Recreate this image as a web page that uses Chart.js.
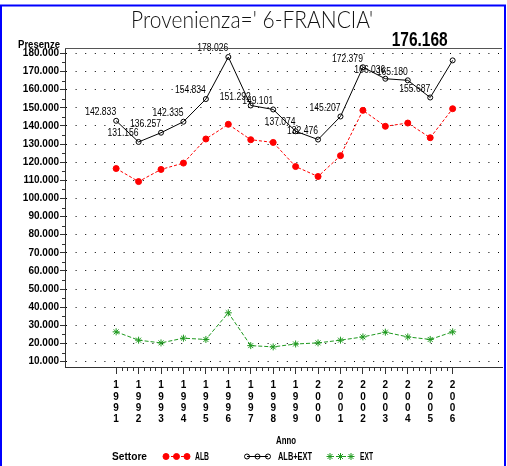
<!DOCTYPE html>
<html>
<head>
<meta charset="utf-8">
<script src="https://cdn.jsdelivr.net/npm/chart.js@4.4.0/dist/chart.umd.min.js"></script>
<style>
  html, body { margin: 0; padding: 0; background: #fff; }
</style>
</head>
<body>
<canvas id="myChart" width="507" height="466"></canvas>
<script>
var years = [1991, 1992, 1993, 1994, 1995, 1996, 1997, 1998, 1999, 2000, 2001, 2002, 2003, 2004, 2005, 2006];
var albExt = [142833, 131156, 136257, 142335, 154834, 178026, 151292, 149101, 137074, 132476, 145207, 172379, 166036, 165180, 155687, 176168];
var alb = [116500, 109300, 116000, 119500, 132800, 140900, 132400, 130900, 117600, 112100, 123600, 148600, 139800, 141600, 133500, 149500];
var ext = [26400, 21800, 20300, 22900, 22200, 36900, 18800, 18100, 19700, 20300, 21800, 23600, 26200, 23600, 22200, 26400];
var yTicks = [10000, 20000, 30000, 40000, 50000, 60000, 70000, 80000, 90000, 100000, 110000, 120000, 130000, 140000, 150000, 160000, 170000, 180000];

var SANS = '"Liberation Sans", Arial, sans-serif';

function fmt(v) {
  return (v / 1000).toFixed(3);
}

function points(vals) {
  return years.map(function (y, i) { return { x: y, y: vals[i] }; });
}

// make text span a given width: squeeze it if too wide, space it out if too narrow
function fitText(c, text, x, y, width) {
  c.save();
  c.letterSpacing = '0px';
  c.textAlign = 'left';
  var w0 = c.measureText(text).width;
  if (w0 > width) {
    c.translate(x, y);
    c.scale(width / w0, 1);
    c.fillText(text, 0, 0);
  } else {
    c.letterSpacing = ((width - w0) / Math.max(text.length - 1, 1)) + 'px';
    c.fillText(text, x, y);
  }
  c.restore();
}

var decor = {
  id: 'decor',
  beforeDraw: function (chart) {
    var c = chart.ctx;
    c.save();
    c.fillStyle = '#fff';
    c.fillRect(0, 0, chart.width, chart.height);
    c.restore();
  },
  afterDraw: function (chart) {
    var c = chart.ctx;
    var area = chart.chartArea;
    var xs = chart.scales.x;
    var ys = chart.scales.y;
    c.save();

    // top frame line
    c.strokeStyle = '#555';
    c.lineWidth = 1;
    c.beginPath();
    c.moveTo(area.left, area.top + 0.5);
    c.lineTo(area.right, area.top + 0.5);
    c.stroke();

    // minor ticks
    c.strokeStyle = '#333';
    c.beginPath();
    for (var i = 0; i < years.length - 1; i++) {
      for (var q = 1; q < 4; q++) {
        var px = Math.round(xs.getPixelForValue(years[i] + q / 4)) + 0.5;
        c.moveTo(px, area.bottom);
        c.lineTo(px, area.bottom + 4);
      }
    }
    for (var j = 0; j < yTicks.length - 1; j++) {
      var py = Math.round(ys.getPixelForValue(yTicks[j] + 5000)) + 0.5;
      c.moveTo(area.left - 3, py);
      c.lineTo(area.left, py);
    }
    c.stroke();

    // title
    c.fillStyle = '#111';
    c.textBaseline = 'alphabetic';
    c.font = '300 23px Lato, ' + SANS;
    fitText(c, "Provenienza=' 6-FRANCIA'", 131, 28, 242);

    // axis titles
    c.fillStyle = '#000';
    c.font = 'bold 10px ' + SANS;
    fitText(c, 'Presenze', 18, 47.5, 42);
    c.font = 'bold 11px ' + SANS;
    fitText(c, 'Anno', 276, 444, 20);

    // legend
    c.font = 'bold 11px ' + SANS;
    fitText(c, 'Settore', 112, 460, 35);
    var items = [
      { ds: 0, x: 166, tx: 195, tw: 14 },
      { ds: 1, x: 247, tx: 278, tw: 34 },
      { ds: 2, x: 330, tx: 360, tw: 13 }
    ];
    items.forEach(function (it) {
      var d = chart.data.datasets[it.ds];
      var ly = 456;
      c.save();
      c.strokeStyle = d.borderColor;
      c.lineWidth = 1;
      c.setLineDash(d.borderDash || []);
      c.beginPath();
      c.moveTo(it.x, ly + 0.5);
      c.lineTo(it.x + 21, ly + 0.5);
      c.stroke();
      c.setLineDash([]);
      c.fillStyle = d.pointBackgroundColor;
      for (var k = 0; k < 3; k++) {
        Chart.helpers.drawPoint(c, {
          pointStyle: d.pointStyle,
          radius: d.pointRadius,
          rotation: 0,
          borderWidth: 1
        }, it.x + k * 10.5, ly + 0.5);
      }
      c.restore();
      c.fillStyle = '#000';
      fitText(c, d.label, it.tx, 460, it.tw);
    });

    // blue frame
    c.strokeStyle = '#0000ff';
    c.lineWidth = 2;
    c.beginPath();
    c.moveTo(1, chart.height);
    c.lineTo(1, 5.5);
    c.lineTo(505, 5.5);
    c.lineTo(505, chart.height);
    c.stroke();

    c.restore();
  }
};

var pointLabels = {
  id: 'pointLabels',
  afterDatasetsDraw: function (chart) {
    var meta = chart.getDatasetMeta(1);
    var c = chart.ctx;
    c.save();
    c.fillStyle = '#000';
    meta.data.forEach(function (pt, i) {
      if (i === albExt.length - 1) {
        c.font = 'bold 21px ' + SANS;
        c.textBaseline = 'alphabetic';
        fitText(c, fmt(albExt[i]), pt.x - 61, pt.y - 14, 56);
      } else {
        c.font = '10px ' + SANS;
        c.textBaseline = 'middle';
        fitText(c, fmt(albExt[i]), pt.x - 31, pt.y - 8.5, 31);
      }
    });
    c.restore();
  }
};

var ctx = document.getElementById('myChart');
new Chart(ctx, {
  type: 'line',
  data: {
    datasets: [
      {
        label: 'ALB',
        data: points(alb),
        borderColor: '#ff0000',
        backgroundColor: '#ff0000',
        borderWidth: 1,
        borderDash: [3, 2],
        pointStyle: 'circle',
        pointRadius: 3,
        pointBorderWidth: 1,
        pointBackgroundColor: '#ff0000',
        pointBorderColor: '#ff0000'
      },
      {
        label: 'ALB+EXT',
        data: points(albExt),
        borderColor: '#000000',
        backgroundColor: '#000000',
        borderWidth: 1,
        pointStyle: 'circle',
        pointRadius: 2.5,
        pointBorderWidth: 1,
        pointBackgroundColor: 'rgba(0,0,0,0)',
        pointBorderColor: '#000000'
      },
      {
        label: 'EXT',
        data: points(ext),
        borderColor: '#1f9a1f',
        backgroundColor: '#1f9a1f',
        borderWidth: 1,
        borderDash: [4, 2],
        pointStyle: 'star',
        pointRadius: 3.5,
        pointBorderWidth: 1,
        pointBackgroundColor: '#1f9a1f',
        pointBorderColor: '#1f9a1f'
      }
    ]
  },
  options: {
    responsive: false,
    animation: false,
    layout: { padding: { top: 48, right: 2, left: 0, bottom: 0 } },
    plugins: {
      legend: { display: false },
      title: { display: false },
      tooltip: { enabled: false }
    },
    scales: {
      x: {
        type: 'linear',
        min: 1988.72,
        max: 2008.2,
        afterBuildTicks: function (s) {
          s.ticks = years.map(function (v) { return { value: v }; });
        },
        afterFit: function (s) { s.height = 99; },
        ticks: {
          autoSkip: false,
          maxRotation: 0,
          padding: 6,
          color: '#000',
          font: { family: SANS, size: 10, weight: 'bold', lineHeight: '11.3px' },
          callback: function (v) { return String(v).split(''); }
        },
        grid: { drawOnChartArea: false, drawTicks: true, tickLength: 7, tickColor: '#333' },
        border: { display: true, color: '#333', width: 1 }
      },
      y: {
        min: 7000,
        max: 183000,
        afterBuildTicks: function (s) {
          s.ticks = yTicks.map(function (v) { return { value: v }; });
        },
        afterFit: function (s) { s.width = 65; },
        ticks: {
          padding: 1,
          color: '#000',
          font: { family: SANS, size: 10, weight: 'bold' },
          callback: function (v) { return fmt(v); }
        },
        grid: { color: '#000', lineWidth: 1, tickLength: 5, tickColor: '#333' },
        border: { display: true, color: '#333', width: 1, dash: [1, 8.6] }
      }
    }
  },
  plugins: [decor, pointLabels]
});
</script>
</body>
</html>
